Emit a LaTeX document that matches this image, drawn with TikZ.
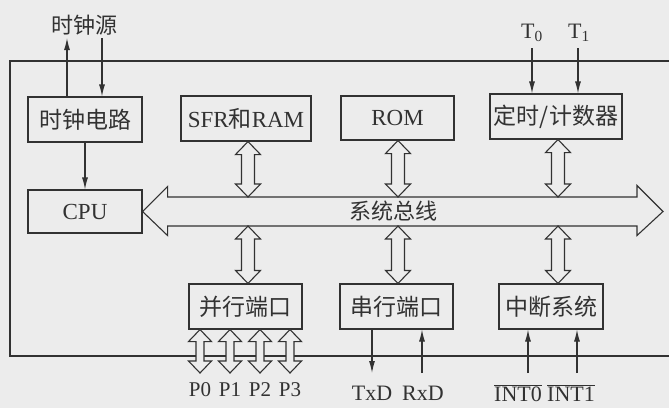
\documentclass[tikz,border=0pt]{standalone}
\usepackage{fontspec}
\setmainfont{Liberation Serif}
\newfontfamily\cjk{Noto Sans CJK SC}
\usetikzlibrary{calc,arrows.meta}
\definecolor{bg}{RGB}{236,236,236}
\definecolor{ink}{RGB}{50,50,50}
% vertical fat double arrow: #1 top point, #2 bottom point, #3 head half width, #4 shaft half width, #5 head length
\newcommand\vdbl[5]{\draw[fat] let \p1=#1, \p2=#2 in
  (\x1,\y1) -- (\x1+#3pt,\y1-#5pt) -- (\x1+#4pt,\y1-#5pt) -- (\x1+#4pt,\y2+#5pt)
  -- (\x1+#3pt,\y2+#5pt) -- (\x1,\y2) -- (\x1-#3pt,\y2+#5pt) -- (\x1-#4pt,\y2+#5pt)
  -- (\x1-#4pt,\y1-#5pt) -- (\x1-#3pt,\y1-#5pt) -- cycle;}
\begin{document}
\begin{tikzpicture}[x=1pt,y=-1pt,
  box/.style={draw=ink, line width=1.1pt, fill=bg, minimum width=#1, minimum height=45pt, inner sep=0pt,
    font=\fontsize{23}{27}\selectfont, text=ink},
  lbl/.style={font=\fontsize{22}{26}\selectfont, text=ink, inner sep=0pt},
  plbl/.style={font=\fontsize{21}{25}\selectfont, text=ink, inner sep=0pt},
  fat/.style={draw=ink, line width=1.1pt, fill=bg, line join=miter},
  thin/.style={draw=ink, line width=1.1pt, -{Latex[length=12pt,width=6pt]}},
  frame/.style={draw=ink, line width=1.1pt}]
\useasboundingbox (0,0) rectangle (669,408);
\fill[bg] (0,0) rectangle (669,408);
% outer frame (open to the right, cut by the page)
\draw[frame] (680,61) -- (10,61) -- (10,356) -- (680,356);

% boxes
\node[box=114pt] (clk) at (85,119.5) {\cjk 时钟电路};
\node[box=130pt] (sfr) at (246,118.5) {SFR{\cjk 和}RAM};
\node[box=113pt, minimum height=44pt] (rom) at (397.5,118) {ROM};
\node[box=132pt] (tmr) at (556,116.5) {\cjk 定时/计数器};
\node[box=114pt, minimum height=43pt] (cpu) at (85,211.5) {CPU};
\node[box=113pt] (par) at (245.5,306.5) {\cjk 并行端口};
\node[box=113pt] (ser) at (396.5,306.5) {\cjk 串行端口};
\node[box=104pt] (irq) at (551,306.5) {\cjk 中断系统};

% system bus
\coordinate (busR) at (663,211.5);
\coordinate (bustop) at (0,197);
\coordinate (busbot) at (0,226);
\draw[fat] let \p1=(cpu.east), \p2=(busR) in
  (\x1,\y1) -- (\x1+25pt,\y1+25pt) -- (\x1+25pt,\y1+14.5pt) -- (\x2-26pt,\y1+14.5pt)
  -- (\x2-26pt,\y1+26pt) -- (\x2,\y2) -- (\x2-26pt,\y1-24pt) -- (\x2-26pt,\y1-14.5pt)
  -- (\x1+25pt,\y1-14.5pt) -- (\x1+25pt,\y1-24pt) -- cycle;
\node[lbl] (busl) at (393,211) {\cjk 系统总线};

% module <-> bus
\vdbl{([xshift=2pt]sfr.south)}{([xshift=2pt]sfr.south |- bustop)}{12.5}{6.5}{13}
\vdbl{([xshift=0.5pt]rom.south)}{([xshift=0.5pt]rom.south |- bustop)}{12.5}{6.5}{13}
\vdbl{([xshift=2pt]tmr.south)}{([xshift=2pt]tmr.south |- bustop)}{12.5}{6.5}{13}
\vdbl{([xshift=2.5pt]par.north |- busbot)}{([xshift=2.5pt]par.north)}{12.5}{6.5}{13}
\vdbl{([xshift=1.5pt]ser.north |- busbot)}{([xshift=1.5pt]ser.north)}{12.5}{6.5}{13}
\vdbl{([xshift=7pt]irq.north |- busbot)}{([xshift=7pt]irq.north)}{12.5}{6.5}{13}

% clock source
\node[lbl] (src) at (84,25) {\cjk 时钟源};
\coordinate (srcout) at (67,38);
\coordinate (srcin) at (102,38);
\draw[thin] (clk.north -| srcout) -- (srcout);
\draw[thin] (srcin) -- (clk.north -| srcin);
\draw[thin] (clk.south) -- (cpu.north);

% T0 / T1
\node[lbl] (t0) at (532,33) {T\textsubscript{0}};
\node[lbl] (t1) at (579,33) {T\textsubscript{1}};
\coordinate (t0a) at (532,48);
\coordinate (t1a) at (578,48);
\draw[thin] (t0a) -- (tmr.north -| t0a);
\draw[thin] (t1a) -- (tmr.north -| t1a);

% parallel port lines
\foreach \i/\xx in {0/200,1/230,2/260,3/290}{
  \coordinate (p\i) at (\xx,373);
  \vdbl{(par.south -| p\i)}{(p\i)}{11.5}{4}{12}
  \node[plbl] (pl\i) at (\xx,390) {P\i};
}

% serial port
\coordinate (txd) at (372,373);
\coordinate (rxd) at (422,373);
\draw[thin] (ser.south -| txd) -- (txd);
\draw[thin] (rxd) -- (ser.south -| rxd);
\node[lbl] (txdl) at (372,393) {TxD};
\node[lbl] (rxdl) at (423,393) {RxD};

% interrupts
\coordinate (int0) at (528,373);
\coordinate (int1) at (577,373);
\draw[thin] (int0) -- (irq.south -| int0);
\draw[thin] (int1) -- (irq.south -| int1);
\node[lbl] (int0l) at (518,393) {$\overline{\mbox{INT0}}$};
\node[lbl] (int1l) at (571,393) {$\overline{\mbox{INT1}}$};
\end{tikzpicture}
\end{document}
